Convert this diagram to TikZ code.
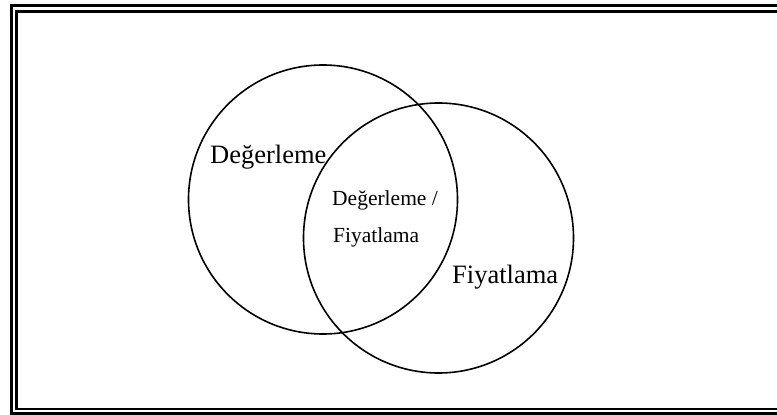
\documentclass[tikz,border=0pt]{standalone}
\usepackage{fontspec}
\setmainfont{Liberation Serif}
\usetikzlibrary{positioning}

\begin{document}
\begin{tikzpicture}[
    x=1pt, y=-1pt,
    circ/.style={circle, draw, line width=1.6pt, inner sep=0pt},
    biglabel/.style={anchor=base west, inner sep=0pt, font=\fontsize{26.5}{30}\selectfont},
    smalllabel/.style={anchor=base west, inner sep=0pt, font=\fontsize{21.5}{25}\selectfont},
    frameline/.style={line width=2.4pt},
]
\useasboundingbox (0,0) rectangle (777,415);

% Double frame
\coordinate (outer_tr) at (777,5.5);
\coordinate (outer_bl) at (11.5,413.5);
\coordinate (inner_tr) at (777,11.5);
\coordinate (inner_bl) at (16.5,409);
\draw[frameline] (outer_tr) -| (outer_bl) -- (outer_bl -| outer_tr);
\draw[frameline] (inner_tr) -| (inner_bl) -- (inner_bl -| inner_tr);

% Circles
\node[circ, minimum size=269pt] (deger) at (323,199.5) {};
\node[circ, minimum size=270pt] (fiyat) at (438.5,238) {};

% Labels
\node[biglabel] (deger_lbl) at (210,163) {Değerleme};
\node[smalllabel] (both_lbl1) at (332,205) {Değerleme /};
\node[smalllabel] (both_lbl2) at (333,242) {Fiyatlama};
\node[biglabel] (fiyat_lbl) at (452,283) {Fiyatlama};

\end{tikzpicture}
\end{document}
